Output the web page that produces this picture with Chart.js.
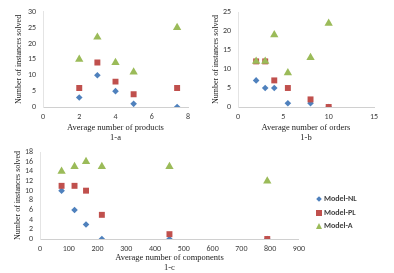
<!DOCTYPE html>
<html>
<head>
<meta charset="utf-8">
<script src="https://cdn.jsdelivr.net/npm/chart.js@4/dist/chart.umd.min.js"></script>
<style>
  body { margin: 0; background: #fff; width: 394px; height: 273px; overflow: hidden; position: relative; }
  .box { position: absolute; }
  #legend { position: absolute; left: 316px; top: 192px; font-family: Carlito, "Liberation Sans", sans-serif; font-size: 8px; font-weight: bold; color: #404040; }
  #legend div { height: 13.5px; line-height: 13.5px; white-space: nowrap; }
  .mk { display: inline-block; vertical-align: middle; margin-right: 2px; }
</style>
</head>
<body>
<div class="box" style="left:0;top:0;width:200px;height:140px"><canvas id="c1"></canvas></div>
<div class="box" style="left:195px;top:0;width:199px;height:140px"><canvas id="c2"></canvas></div>
<div class="box" style="left:0;top:135px;width:310px;height:138px"><canvas id="c3"></canvas></div>
<div id="legend">
  <div><span class="mk" style="width:4px;height:4px;background:#4F81BD;transform:rotate(45deg);margin:0 3px 0 1px"></span>Model-NL</div>
  <div><span class="mk" style="width:6px;height:6px;background:#C0504D"></span>Model-PL</div>
  <div><span class="mk" style="width:0;height:0;border-left:3.5px solid transparent;border-right:3.5px solid transparent;border-bottom:6px solid #9BBB59"></span>Model-A</div>
</div>
<script>
// 1-a : average number of products
var productsX = [2, 3, 4, 5, 7.4];
var productsNL = [3, 10, 5, 1, 0];
var productsPL = [6, 14, 8, 4, 6];
var productsA = [15, 22, 14, 11, 25];

// 1-b : average number of orders
var ordersX = [2, 3, 4, 5.5, 8, 10];
var ordersNL = [7, 5, 5, 1, 1, 0];
var ordersPL = [12, 12, 7, 5, 2, 0];
var ordersA = [12, 12, 19, 9, 13, 22];

// 1-c : average number of components
var compX = [75, 120, 160, 215, 450, 790];
var compNL = [10, 6, 3, 0, 0, 0];
var compPL = [11, 11, 10, 5, 1, 0];
var compA = [14, 15, 16, 15, 15, 12];

var seriesNames = ['Model-NL', 'Model-PL', 'Model-A'];
var colors = ['#4F81BD', '#C0504D', '#9BBB59'];
var styles = ['rectRot', 'rect', 'triangle'];
var radii = [3.3, 4.2, 4.8];

function pts(xs, ys) {
  return xs.map(function (x, i) { return { x: x, y: ys[i] }; });
}

function makeChart(id, xs, series, opt) {
  var datasets = series.map(function (ys, k) {
    return {
      label: seriesNames[k],
      data: pts(xs, ys),
      pointStyle: styles[k],
      pointRadius: radii[k],
      pointBackgroundColor: colors[k],
      pointBorderColor: colors[k],
      pointBorderWidth: 0,
      showLine: false
    };
  });
  // draw triangles first, then squares, diamonds on top
  datasets.reverse();
  var tickFont = { family: 'Carlito, "Liberation Sans", sans-serif', size: 8 };
  var titleFont = { family: '"Liberation Serif", "DejaVu Serif", serif', size: 8 };
  return new Chart(document.getElementById(id), {
    type: 'scatter',
    data: { datasets: datasets },
    options: {
      responsive: true,
      maintainAspectRatio: false,
      animation: false,
      layout: { padding: opt.pad },
      plugins: { legend: { display: false }, tooltip: { enabled: false } },
      scales: {
        x: {
          min: opt.xmin, max: opt.xmax,
          grid: { display: false, drawTicks: false },
          border: { display: true, color: '#d0d0d0', width: 1 },
          ticks: { stepSize: opt.xstep, autoSkip: false, font: tickFont, color: '#404040', padding: 5 },
          title: { display: true, text: opt.xtitle, font: { family: titleFont.family, size: 8.5 }, color: '#222', padding: { top: 2, bottom: opt.tb } },
          afterFit: function (s) { s.height = opt.xh; }
        },
        y: {
          min: 0, max: opt.ymax,
          grid: { display: false, drawTicks: false },
          border: { display: true, color: '#e4e4e4', width: 1 },
          ticks: { stepSize: opt.ystep, autoSkip: false, font: tickFont, color: '#404040', padding: 7 },
          title: { display: true, text: 'Number of instances solved', font: titleFont, color: '#222', padding: 0 },
          afterFit: function (s) { s.width = opt.yw; }
        }
      }
    }
  });
}

makeChart('c1', productsX, [productsNL, productsPL, productsA], {
  pad: { top: 11, right: 12, left: 14, bottom: 0 },
  xmin: 0, xmax: 8, xstep: 2, ymax: 30, ystep: 5,
  xtitle: ['Average number of products', '1-a'], xh: 33, yw: 29, tb: -3
});

makeChart('c2', ordersX, [ordersNL, ordersPL, ordersA], {
  pad: { top: 12, right: 20, left: 16, bottom: 0 },
  xmin: 0, xmax: 15, xstep: 5, ymax: 25, ystep: 5,
  xtitle: ['Average number of orders', '1-b'], xh: 33, yw: 27, tb: -3
});

makeChart('c3', compX, [compNL, compPL, compA], {
  pad: { top: 17, right: 11, left: 13, bottom: 0 },
  xmin: 0, xmax: 900, xstep: 100, ymax: 18, ystep: 2,
  xtitle: ['Average number of components', '1-c'], xh: 34, yw: 27, tb: 0
});
</script>
</body>
</html>
